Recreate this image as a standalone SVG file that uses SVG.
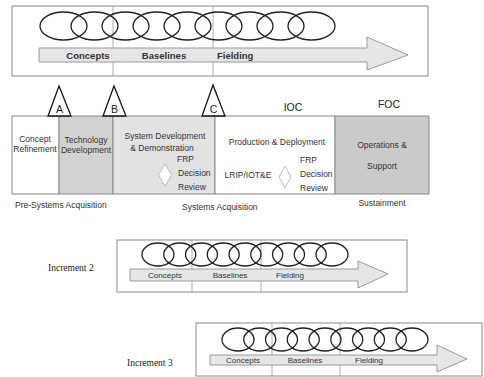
<svg xmlns="http://www.w3.org/2000/svg" width="484" height="377" viewBox="0 0 484 377">
<defs>
<style>
.frame{fill:#fff;stroke:#8a8a8a;stroke-width:1}
.div{stroke:#9a9a9a;stroke-width:0.8}
.ring{fill:none;stroke:#222;stroke-width:1.3}
.arrow{fill:#e6e6e6;stroke:#9a9a9a;stroke-width:1}
.lbl{font-family:"Liberation Sans",Arial,sans-serif;fill:#333}
.big{font-size:9.5px;font-weight:bold}
.sm{font-size:8px}
.ph{font-family:"Liberation Sans",Arial,sans-serif;font-size:8.5px;fill:#333}
.ms{font-family:"Liberation Sans",Arial,sans-serif;font-size:10.5px;fill:#222}
.inc{font-family:"Liberation Serif","Times New Roman",serif;font-size:9.5px;fill:#222}
.tri{fill:#fff;stroke:#111;stroke-width:1.3}
.box{stroke:#8a8a8a;stroke-width:1}
.dia{fill:#fff;stroke:#bbb;stroke-width:1}
</style>
</defs>

<g id="increment1">
<rect class="frame" x="12" y="6" width="416" height="70"/>
<line class="div" x1="113" y1="6" x2="113" y2="76"/>
<line class="div" x1="213" y1="6" x2="213" y2="76"/>
<path class="arrow" d="M39,48 H367 V37 L408,55 L367,70 V62 H39 Z"/>
<g class="ring">
<ellipse cx="63.5" cy="26" rx="23.5" ry="14"/>
<ellipse cx="94.5" cy="26" rx="23.5" ry="14"/>
<ellipse cx="125.5" cy="26" rx="23.5" ry="14"/>
<ellipse cx="156.5" cy="26" rx="23.5" ry="14"/>
<ellipse cx="187.5" cy="26" rx="23.5" ry="14"/>
<ellipse cx="218.5" cy="26" rx="23.5" ry="14"/>
<ellipse cx="249.5" cy="26" rx="23.5" ry="14"/>
<ellipse cx="280.5" cy="26" rx="23.5" ry="14"/>
<ellipse cx="311.5" cy="26" rx="23.5" ry="14"/>
</g>
<text class="lbl big" x="88" y="59" text-anchor="middle">Concepts</text>
<text class="lbl big" x="164" y="59" text-anchor="middle">Baselines</text>
<text class="lbl big" x="217" y="59">Fielding</text>
</g>

<g id="phases">
<rect class="box" x="12" y="116" width="47" height="78" fill="#fff"/>
<rect class="box" x="59" y="116" width="54" height="78" fill="#d2d2d2"/>
<rect class="box" x="113" y="116" width="102" height="78" fill="#e2e2e2"/>
<rect class="box" x="215" y="116" width="120" height="78" fill="#fff"/>
<rect class="box" x="335" y="116" width="94" height="78" fill="#cacaca"/>
<text class="ph" x="35" y="142" text-anchor="middle">Concept</text>
<text class="ph" x="35" y="152" text-anchor="middle">Refinement</text>
<text class="ph" x="86" y="143" text-anchor="middle">Technology</text>
<text class="ph" x="86" y="153" text-anchor="middle">Development</text>
<text class="ph" x="165" y="139" text-anchor="middle">System Development</text>
<text class="ph" x="162" y="151" text-anchor="middle">&amp; Demonstration</text>
<path class="dia" d="M165,164 L171.5,175 L165,186 L158.5,175 Z"/>
<text class="ph" x="177" y="162">FRP</text>
<text class="ph" x="178" y="176">Decision</text>
<text class="ph" x="178" y="190">Review</text>
<text class="ph" x="277" y="145" text-anchor="middle">Production &amp; Deployment</text>
<text class="ph" x="248" y="178" text-anchor="middle">LRIP/IOT&amp;E</text>
<path class="dia" d="M285,166 L291,177 L285,188 L279,177 Z"/>
<text class="ph" x="300" y="163">FRP</text>
<text class="ph" x="300" y="177">Decision</text>
<text class="ph" x="300" y="191">Review</text>
<text class="ph" x="382" y="148" text-anchor="middle">Operations &amp;</text>
<text class="ph" x="382" y="169" text-anchor="middle">Support</text>
</g>

<g id="milestones">
<path class="tri" d="M59,86 L71,116 L48,116 Z"/>
<text class="ms" x="59.5" y="113" text-anchor="middle">A</text>
<path class="tri" d="M114,86 L126,116 L103,116 Z"/>
<text class="ms" x="114.5" y="113" text-anchor="middle">B</text>
<path class="tri" d="M213,85 L225,116 L202,116 Z"/>
<text class="ms" x="213.5" y="113" text-anchor="middle">C</text>
<text class="ms" x="293" y="111" text-anchor="middle">IOC</text>
<text class="ms" x="389" y="108" text-anchor="middle">FOC</text>
</g>

<g id="stages">
<text class="ph" x="15" y="208">Pre-Systems Acquisition</text>
<text class="ph" x="182" y="210">Systems Acquisition</text>
<text class="ph" x="382" y="206" text-anchor="middle">Sustainment</text>
</g>

<g id="increment2">
<text class="inc" x="48" y="271">Increment 2</text>
<rect class="frame" x="117" y="240" width="290" height="52"/>
<line class="div" x1="192" y1="240" x2="192" y2="292"/>
<line class="div" x1="261" y1="240" x2="261" y2="292"/>
<path class="arrow" d="M130,269 H358 V261 L388,274 L358,288 V281 H130 Z"/>
<g class="ring">
<ellipse cx="158" cy="254.5" rx="16" ry="11.5"/>
<ellipse cx="179.75" cy="254.5" rx="16" ry="11.5"/>
<ellipse cx="201.5" cy="254.5" rx="16" ry="11.5"/>
<ellipse cx="223.25" cy="254.5" rx="16" ry="11.5"/>
<ellipse cx="245" cy="254.5" rx="16" ry="11.5"/>
<ellipse cx="266.75" cy="254.5" rx="16" ry="11.5"/>
<ellipse cx="288.5" cy="254.5" rx="16" ry="11.5"/>
<ellipse cx="310.25" cy="254.5" rx="16" ry="11.5"/>
<ellipse cx="332" cy="254.5" rx="16" ry="11.5"/>
</g>
<text class="lbl sm" x="165" y="278" text-anchor="middle">Concepts</text>
<text class="lbl sm" x="230" y="278" text-anchor="middle">Baselines</text>
<text class="lbl sm" x="276" y="278">Fielding</text>
</g>

<g id="increment3">
<text class="inc" x="127" y="366">Increment 3</text>
<rect class="frame" x="196" y="323" width="286" height="53"/>
<line class="div" x1="272" y1="323" x2="272" y2="376"/>
<line class="div" x1="340" y1="323" x2="340" y2="376"/>
<path class="arrow" d="M210,355 H437 V345 L467,359 L437,372 V365 H210 Z"/>
<g class="ring">
<ellipse cx="238" cy="339.5" rx="16" ry="11.5"/>
<ellipse cx="259.75" cy="339.5" rx="16" ry="11.5"/>
<ellipse cx="281.5" cy="339.5" rx="16" ry="11.5"/>
<ellipse cx="303.25" cy="339.5" rx="16" ry="11.5"/>
<ellipse cx="325" cy="339.5" rx="16" ry="11.5"/>
<ellipse cx="346.75" cy="339.5" rx="16" ry="11.5"/>
<ellipse cx="368.5" cy="339.5" rx="16" ry="11.5"/>
<ellipse cx="390.25" cy="339.5" rx="16" ry="11.5"/>
<ellipse cx="412" cy="339.5" rx="16" ry="11.5"/>
</g>
<text class="lbl sm" x="243" y="363" text-anchor="middle">Concepts</text>
<text class="lbl sm" x="305" y="363" text-anchor="middle">Baselines</text>
<text class="lbl sm" x="355" y="363">Fielding</text>
</g>
</svg>
